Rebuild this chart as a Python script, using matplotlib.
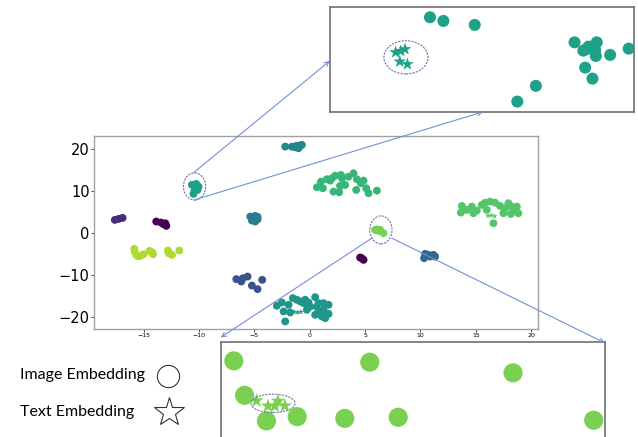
import matplotlib
matplotlib.use("Agg")
import matplotlib.pyplot as plt
from matplotlib.patches import Ellipse, ConnectionPatch
from matplotlib.lines import Line2D

# main t-SNE scatter, one entry per cluster: (x values, y values, colour)
clusters = {
    "a": ([-17.6, -17.25, -16.9], [3.11, 3.35, 3.59], "#472d7b"),
    "b": ([-13.86, -13.44, -13.2, -12.95, -13.04], [2.72, 2.48, 2.08, 1.68, 2.3], "#440154"),
    "c": ([-15.84, -15.66, -15.3, -15.0, -14.46, -14.15, -12.74, -12.44, -11.78, -15.8, -15.5, -14.2, -12.8],
          [-3.82, -5.26, -5.5, -5.1, -4.3, -5.1, -4.85, -5.26, -4.23, -4.5, -5.6, -4.7, -4.2], "#addc30"),
    "d": ([-6.63, -6.18, -6.03, -5.61, -5.22, -4.71, -4.29], [-11.06, -11.63, -10.83, -10.44, -12.59, -13.45, -11.23], "#3b528b"),
    "e": ([-5.37, -4.92, -4.71, -5.22, -4.92, -4.71], [3.91, 4.07, 3.27, 2.96, 2.72, 3.83], "#287c8e"),
    "f": ([-2.21, -1.61, -1.22, -0.86, -1.01, -1.31, -0.71], [20.64, 20.64, 20.8, 20.96, 20.24, 20.48, 21.04], "#25858e"),
    "g": ([-10.64, -10.25, -10.04, -10.4, -10.5, -10.13], [11.48, 11.72, 11.08, 10.04, 9.33, 10.28], "#1fa187"),
    "h": ([0.65, 1.19, 1.01, 1.55, 2.0, 2.3, 2.82, 2.91, 3.5, 3.95, 4.26, 4.62, 4.2, 5.1, 5.31, 6.07, 2.15, 2.66, 2.75, 3.2, 4.86, 1.85],
          [10.92, 10.68, 12.26, 12.83, 13.07, 13.69, 13.86, 13.07, 13.45, 14.26, 12.83, 11.88, 10.27, 10.68, 9.49, 10.11, 9.87, 9.73, 11.23, 11.47, 12.5, 12.5], "#35b779"),
    "i": ([13.74, 13.65, 14.19, 14.64, 14.78, 15.09, 15.54, 15.84, 16.29, 16.74, 17.19, 17.64, 17.94, 18.25, 18.55, 18.84, 18.7, 16.59, 15.99, 17.49, 18.16],
          [6.45, 4.85, 5.5, 6.29, 4.71, 5.33, 6.69, 7.24, 7.48, 7.24, 6.45, 5.9, 7.1, 6.29, 5.5, 4.71, 6.29, 2.32, 5.5, 4.71, 4.54], "#54c568"),
    "j": ([5.91, 6.36, 6.66, 6.21, 6.06], [0.73, 0.73, -0.07, 0.49, 0.81], "#7ad151"),
    "k": ([4.55, 4.86, 4.7], [-5.89, -6.44, -6.05], "#440154"),
    "l": ([10.42, 10.72, 11.17, 10.33, 11.32, 10.87], [-5.01, -5.25, -5.25, -6.05, -5.65, -5.65], "#31688e"),
    "m": ([-2.97, -2.52, -1.91, -1.52, -1.16, -0.86, -0.41, -0.11, 0.49, 0.79, 1.25, 1.7, -2.36, -1.76, -0.26, 0.49, 0.94, 1.4, 1.7, -2.21, -0.2, -0.56, 0.04, 0.64, 1.25, 1.1],
          [-17.44, -16.64, -17.2, -15.6, -16.0, -16.4, -16.0, -16.64, -15.36, -16.8, -16.8, -17.2, -18.79, -19.03, -18.39, -19.59, -19.19, -20.38, -19.35, -21.18, -17.2, -16.8, -17.6, -17.75, -18.39, -19.98], "#1f968b"),
}

# text embeddings (stars) in the main plot
star_x = [2.55, 2.85, 3.15, 16.1, 16.4, 16.7, -1.4, -1.1, -0.8]
star_y = [11.4, 11.5, 11.3, 4.1, 4.2, 4.0, -18.9, -19.0, -18.9]
star_c = ["#35b779"] * 3 + ["#54c568"] * 3 + ["#1f968b"] * 3

# zoomed cluster (top inset), axes-fraction units
top_img_x = [0.329, 0.373, 0.476, 0.804, 0.833, 0.85, 0.877, 0.872, 0.874, 0.921, 0.982, 0.839, 0.863, 0.677, 0.616, 0.86, 0.845]
top_img_y = [0.902, 0.867, 0.829, 0.663, 0.584, 0.622, 0.663, 0.59, 0.533, 0.543, 0.603, 0.422, 0.317, 0.248, 0.098, 0.62, 0.6]
top_txt_x = [0.216, 0.247, 0.23, 0.255, 0.233]
top_txt_y = [0.568, 0.597, 0.479, 0.454, 0.58]

# zoomed cluster (bottom inset), axes-fraction units
bot_img_x = [0.034, 0.388, 0.761, 0.062, 0.119, 0.199, 0.323, 0.462, 0.971]
bot_img_y = [0.844, 0.833, 0.744, 0.556, 0.342, 0.378, 0.364, 0.373, 0.348]
bot_txt_x = [0.093, 0.123, 0.149, 0.167, 0.141]
bot_txt_y = [0.511, 0.467, 0.508, 0.469, 0.467]

fig = plt.figure(figsize=(6.38, 4.37), dpi=100)

ax = fig.add_axes([0.147, 0.247, 0.696, 0.442])
for xs, ys, col in clusters.values():
    ax.scatter(xs, ys, s=32, color=col, edgecolors="none")
ax.scatter(star_x, star_y, s=20, c=star_c, marker="*", edgecolors="none")
ax.set_xlim(-19.5, 20.6)
ax.set_ylim(-23, 23.2)
ax.set_xticks([-15, -10, -5, 0, 5, 10, 15, 20])
ax.set_yticks([-20, -10, 0, 10, 20])
ax.tick_params(axis="x", labelsize=4.5, length=2, width=0.5, pad=1)
ax.tick_params(axis="y", labelsize=10.5, length=2, width=0.5, pad=1)
for sp in ax.spines.values():
    sp.set_color("#a0a0a0")
    sp.set_linewidth(1.0)

ell_kw = dict(fill=False, edgecolor="#6a78a8", linestyle=(0, (2, 1)), linewidth=0.8)
ax.add_patch(Ellipse((-10.4, 11.1), 2.0, 6.5, **ell_kw))
ax.add_patch(Ellipse((6.43, 0.72), 2.0, 6.7, **ell_kw))

# top inset
axt = fig.add_axes([0.517, 0.744, 0.477, 0.240])
axt.scatter(top_img_x, top_img_y, s=75, color="#1fa187", edgecolors="none")
axt.scatter(top_txt_x, top_txt_y, s=95, color="#1fa187", marker="*", edgecolors="none")
axt.add_patch(Ellipse((0.25, 0.52), 0.145, 0.317, **ell_kw))

# bottom inset (cut off by the figure edge)
axb = fig.add_axes([0.346, -0.057, 0.602, 0.274])
axb.scatter(bot_img_x, bot_img_y, s=190, color="#7ad151", edgecolors="none")
axb.scatter(bot_txt_x, bot_txt_y, s=120, color="#7ad151", marker="*", edgecolors="none")
axb.add_patch(Ellipse((0.136, 0.489), 0.115, 0.153, **ell_kw))

for a in (axt, axb):
    a.set_xlim(0, 1)
    a.set_ylim(0, 1)
    a.set_xticks([])
    a.set_yticks([])
    for sp in a.spines.values():
        sp.set_color("#707070")
        sp.set_linewidth(1.2)

# zoom arrows
arrow_kw = dict(arrowstyle="->", color="#7090d8", linewidth=0.8, mutation_scale=8)
links = [
    ((-10.49, 14.4), axt, (0.0, 0.486)),
    ((-10.42, 7.9), axt, (0.503, 0.0)),
    ((5.61, -1.27), axb, (0.0, 1.04)),
    ((7.42, -1.27), axb, (1.0, 0.994)),
]
for start, target, end in links:
    con = ConnectionPatch(xyA=start, coordsA=ax.transData, xyB=end, coordsB=target.transAxes, **arrow_kw)
    fig.add_artist(con)

# marker key
fig.text(0.031, 0.142, "Image Embedding", fontsize=11.5, family="Lato", va="center")
fig.text(0.031, 0.058, "Text Embedding", fontsize=11.5, family="Lato", va="center")
fig.add_artist(Line2D([0.264], [0.140], marker="o", markersize=16, markerfacecolor="white",
                      markeredgecolor="#333333", markeredgewidth=0.8, transform=fig.transFigure))
fig.add_artist(Line2D([0.265], [0.058], marker="*", markersize=22, markerfacecolor="white",
                      markeredgecolor="#333333", markeredgewidth=0.8, transform=fig.transFigure))

fig.savefig("out.png", dpi=100)
